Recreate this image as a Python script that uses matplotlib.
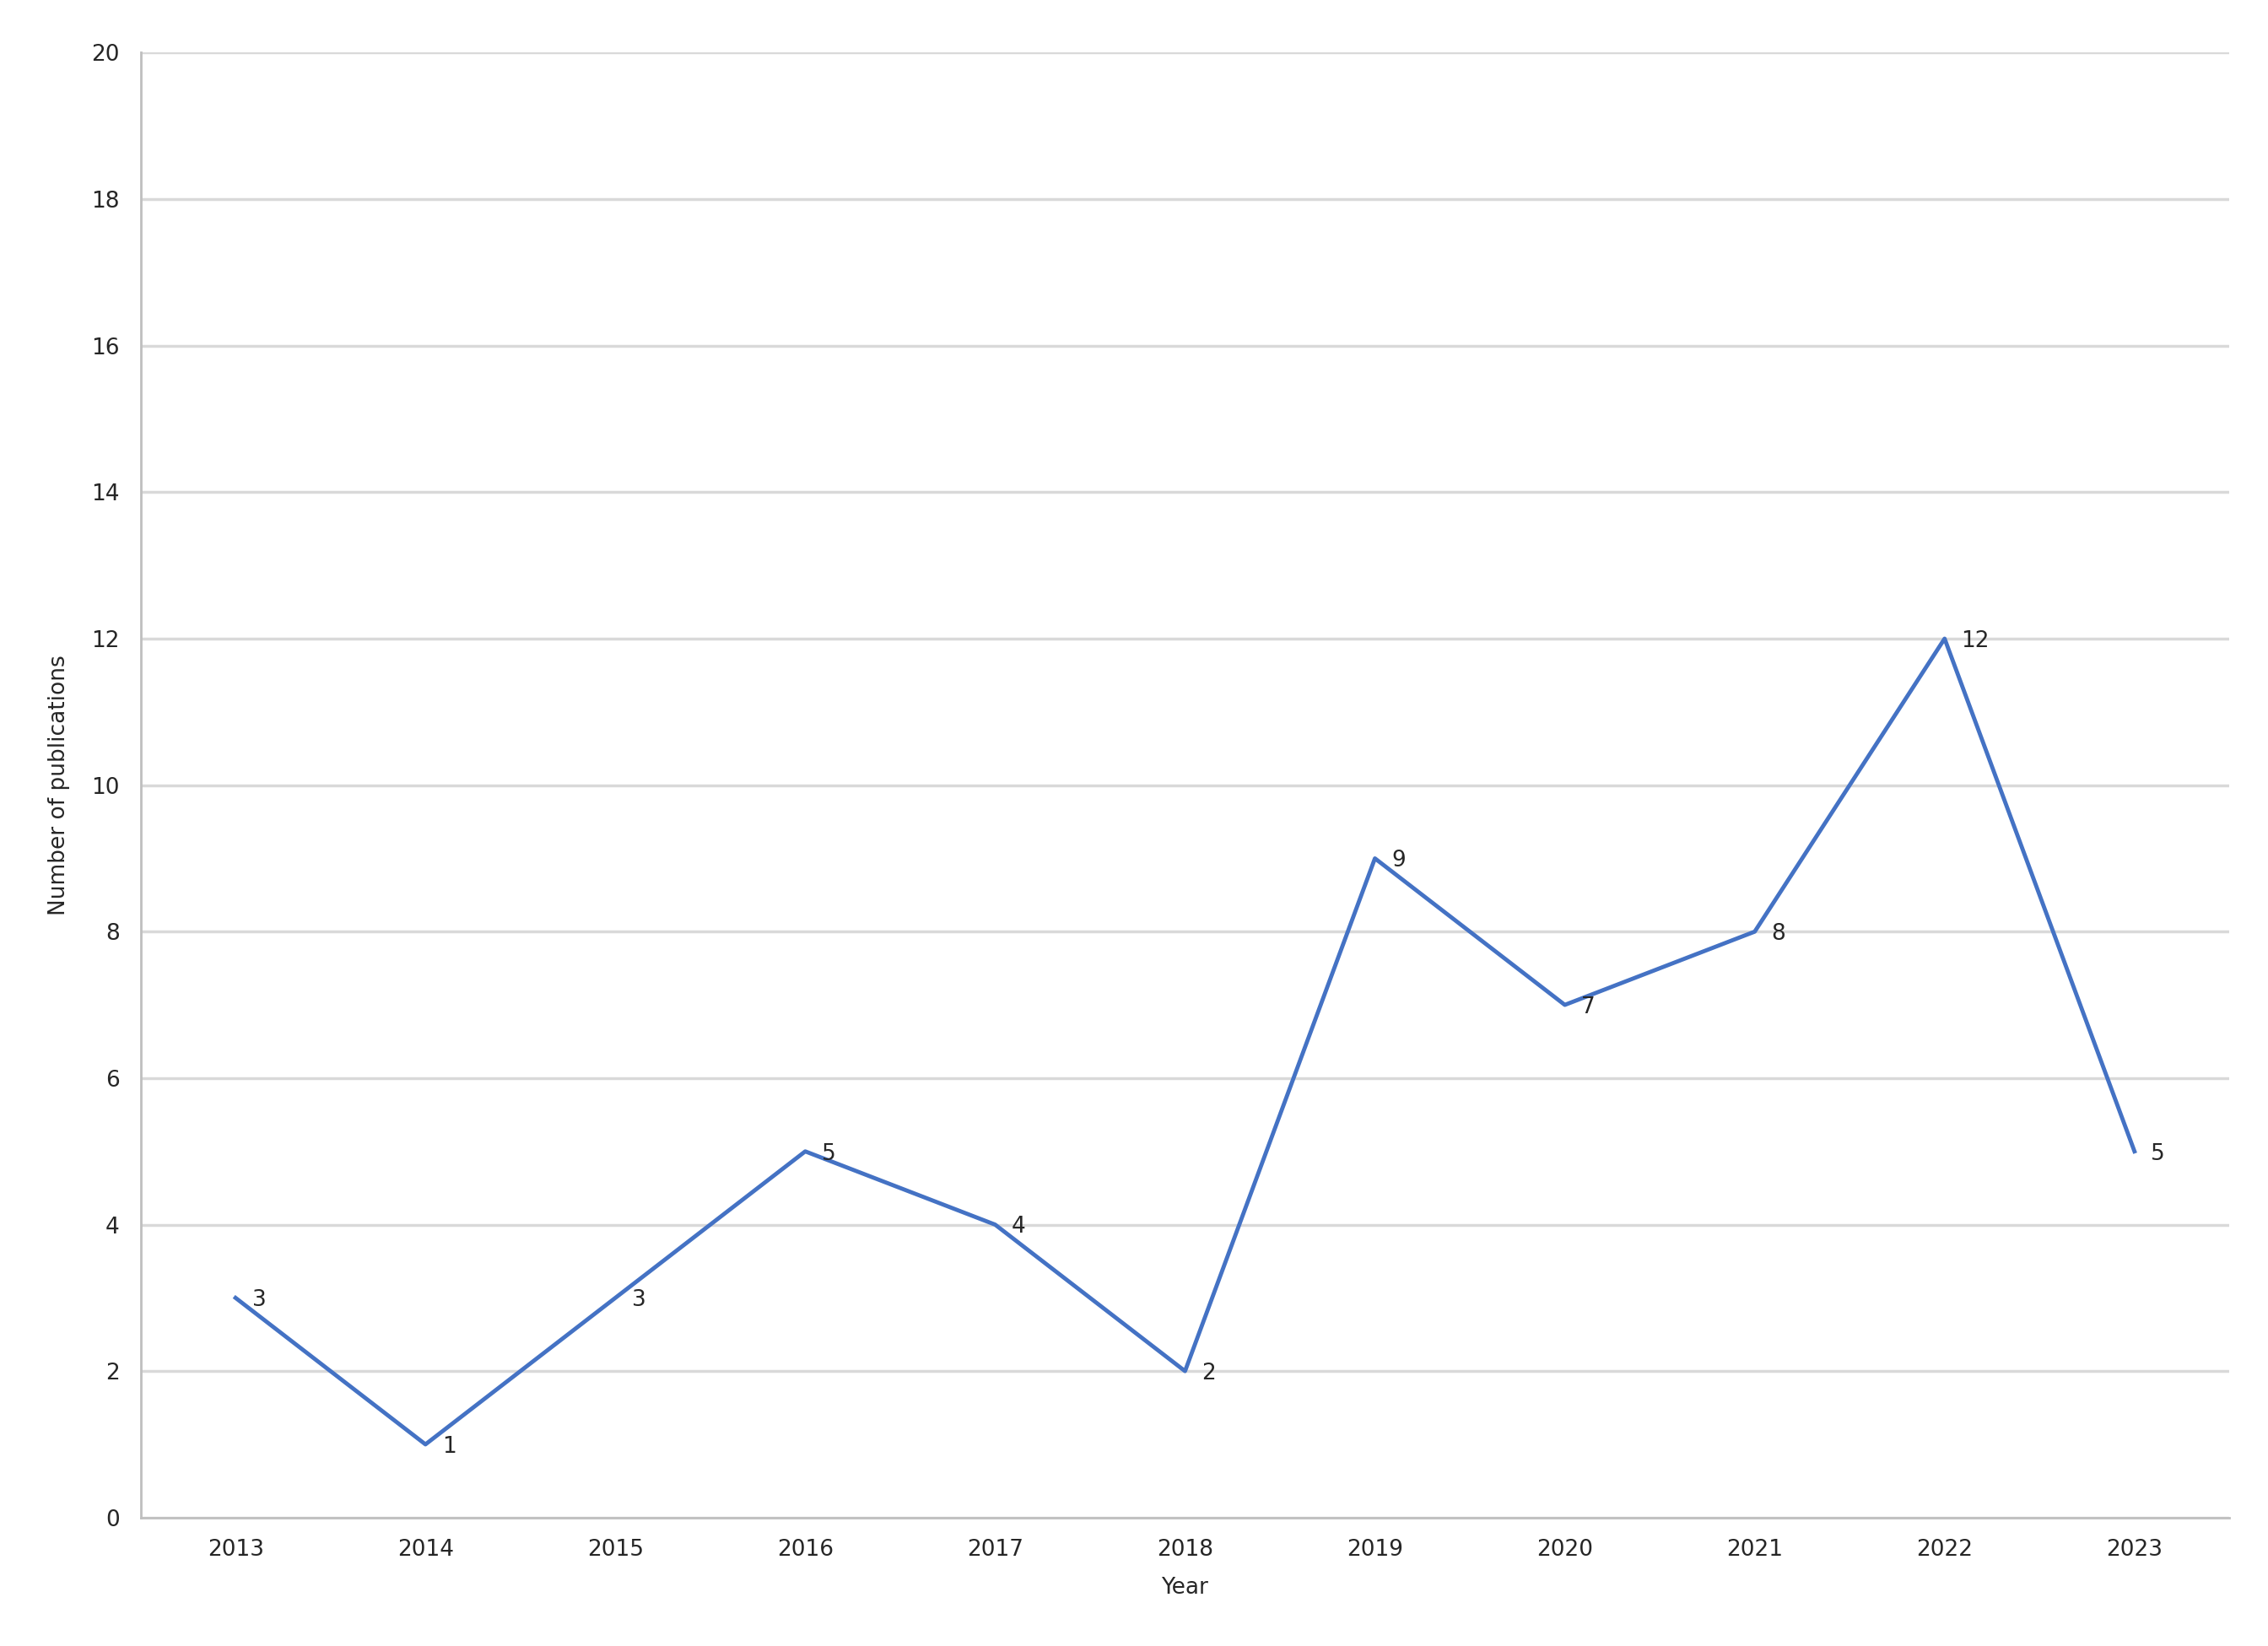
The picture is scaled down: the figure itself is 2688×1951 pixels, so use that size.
import matplotlib.pyplot as plt

# data
years = [2013, 2014, 2015, 2016, 2017, 2018, 2019, 2020, 2021, 2022, 2023]
publications = [3, 1, 3, 5, 4, 2, 9, 7, 8, 12, 5]

line_color = '#4472C4'
grid_color = '#D9D9D9'

fig = plt.figure(figsize=(26.88, 19.51), dpi=100)
ax = fig.add_axes([0.062, 0.078, 0.921, 0.89])

x = list(range(len(years)))
ax.plot(x, publications, color=line_color, linewidth=3.5)

# value labels to the right of each point
for xi, v in zip(x, publications):
    ax.annotate(str(v), (xi, v), xytext=(14, -2), textcoords='offset points',
                ha='left', va='center', fontsize=19, color='#262626')

ax.set_xlim(-0.5, len(years) - 0.5)
ax.set_ylim(0, 20)
ax.set_yticks(range(0, 21, 2))
ax.set_xticks(x)
ax.set_xticklabels(years)
ax.tick_params(axis='both', labelsize=19, length=0, colors='#262626', pad=18)

ax.grid(True, axis='y', color=grid_color, linewidth=2.5)
ax.set_axisbelow(True)
for side in ['top', 'right']:
    ax.spines[side].set_visible(False)
for side in ['left', 'bottom']:
    ax.spines[side].set_color('#BFBFBF')
    ax.spines[side].set_linewidth(2)

ax.set_xlabel('Year', fontsize=19, color='#262626', labelpad=14)
ax.set_ylabel('Number of publications', fontsize=19, color='#262626', labelpad=18)

plt.savefig('out.png', dpi=100)
